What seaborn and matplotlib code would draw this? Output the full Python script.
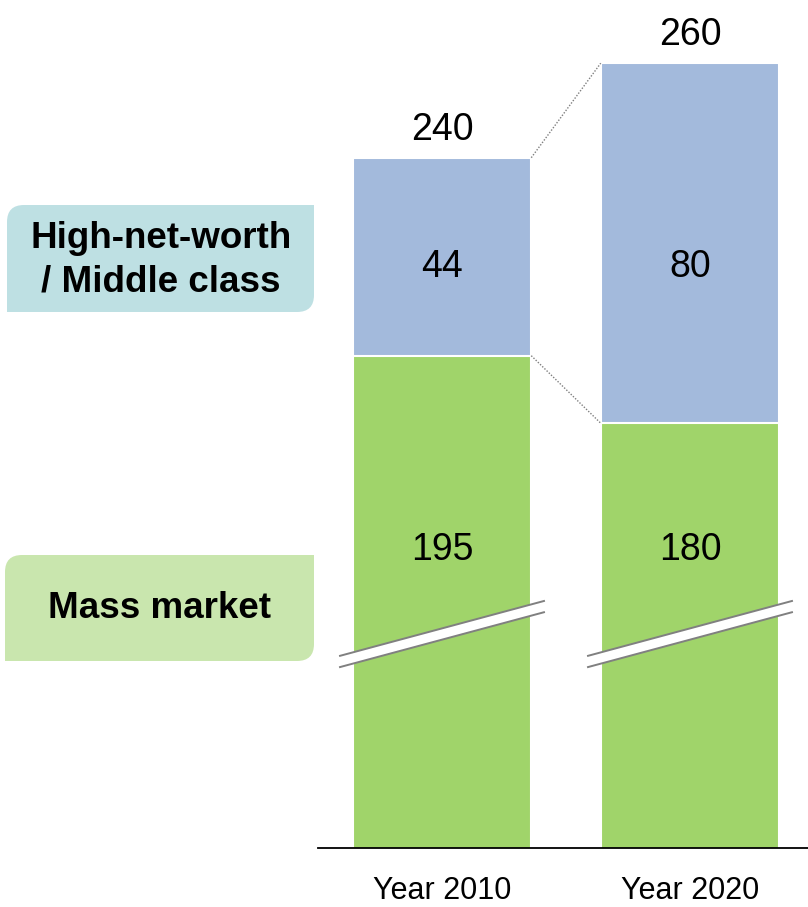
import numpy as np
import pandas as pd
import matplotlib
matplotlib.use("Agg")
import matplotlib.pyplot as plt
import seaborn as sns
from matplotlib.path import Path
from matplotlib.patches import PathPatch, Polygon

# ---- data -------------------------------------------------------------
years = ["Year 2010", "Year 2020"]
mass_market = [195, 180]
high_net_worth = [44, 80]
totals = [240, 260]
segment_labels = ["High-net-worth\n/ Middle class", "Mass market"]

GREEN = "#A0D46A"
BLUE = "#A3BADC"
BOX_TEAL = "#BEE0E3"
BOX_GREEN = "#C9E6AE"

sns.set_theme(style="white")
plt.rcParams["font.family"] = ["Liberation Sans", "DejaVu Sans"]

W, H = 808, 907
fig = plt.figure(figsize=(W / 100, H / 100), dpi=100)

# broken value axis: everything below y_floor is cut away
y_floor = 85.6
px_per_unit = 4.5
base_px = 848
left_px = 318
px_per_cat = 248

ax = fig.add_axes([left_px / W, (H - base_px) / H, (W - left_px) / W, base_px / H])
ax.set_facecolor("none")

df = pd.DataFrame({"year": years, "mass": mass_market, "hnw": high_net_worth})
df["top"] = df["mass"] + df["hnw"]

bar_w = 0.72
sns.barplot(data=df, x="year", y="top", color=BLUE, width=bar_w, saturation=1,
            edgecolor="white", linewidth=1.5, errorbar=None, ax=ax)
sns.barplot(data=df, x="year", y="mass", color=GREEN, width=bar_w, saturation=1,
            edgecolor="white", linewidth=1.5, errorbar=None, ax=ax)

ax.set_ylim(y_floor, y_floor + base_px / px_per_unit)
ax.set_xlim(-0.5, -0.5 + (W - left_px) / px_per_cat)
ax.set_xlabel("")
ax.set_ylabel("")
ax.set_yticks([])
sns.despine(ax=ax, left=True)
ax.spines["bottom"].set_color("black")
ax.spines["bottom"].set_linewidth(1.3)
ax.tick_params(axis="x", length=0, pad=20, labelsize=22, colors="black")

# value labels
inner_hnw_y = 214.8
inner_mass_y = 151.8
for i, row in df.iterrows():
    ax.annotate(f"{totals[i]}", (i, row["top"]), xytext=(0, 13),
                textcoords="offset points", ha="center", va="baseline",
                fontsize=27, color="black")
    ax.text(i, inner_hnw_y, f"{row['hnw']}", ha="center", va="center",
            fontsize=27, color="black")
    ax.text(i, inner_mass_y, f"{row['mass']}", ha="center", va="center",
            fontsize=27, color="black")

# dotted connectors between the two bars
half = bar_w / 2
for col in ["top", "mass"]:
    ax.plot([0 + half, 1 - half], [df[col][0], df[col][1]], color="#7F7F7F",
            linestyle=(0, (1, 1.2)), linewidth=1.0, zorder=3)

# axis-break marks across each bar
brk_left_y, brk_right_y = 127.0, 139.3
brk_half = 1.25
brk_dx = 0.415
for i in range(len(years)):
    xl, xr = i - brk_dx, i + brk_dx
    poly = Polygon([[xl, brk_left_y - brk_half], [xr, brk_right_y - brk_half],
                    [xr, brk_right_y + brk_half], [xl, brk_left_y + brk_half]],
                   closed=True, facecolor="white", edgecolor="none", zorder=4)
    ax.add_patch(poly)
    for s in (-1, 1):
        ax.plot([xl, xr], [brk_left_y + s * brk_half, brk_right_y + s * brk_half],
                color="#808080", linewidth=1.4, zorder=5, solid_capstyle="butt")

# segment legend boxes on the left
oax = fig.add_axes([0, 0, 1, 1])
oax.set_xlim(0, W)
oax.set_ylim(H, 0)
oax.axis("off")
oax.patch.set_visible(False)


def diag_round_box(x0, y0, x1, y1, r, color):
    verts = [(x0, y0 + r), (x0, y0), (x0 + r, y0), (x1, y0), (x1, y1 - r),
             (x1, y1), (x1 - r, y1), (x0, y1), (x0, y0 + r)]
    codes = [Path.MOVETO, Path.CURVE3, Path.CURVE3, Path.LINETO, Path.LINETO,
             Path.CURVE3, Path.CURVE3, Path.LINETO, Path.CLOSEPOLY]
    oax.add_patch(PathPatch(Path(verts, codes), facecolor=color, edgecolor="none"))


diag_round_box(7, 205, 314, 312, 17, BOX_TEAL)
diag_round_box(5, 555, 314, 661, 17, BOX_GREEN)
oax.text(161, 260, segment_labels[0], ha="center", va="center", fontsize=26.5,
         fontweight="bold", linespacing=1.3, color="black")
oax.text(159, 609, segment_labels[1], ha="center", va="center", fontsize=26.5,
         fontweight="bold", color="black")

fig.savefig("out.png", dpi=100)
